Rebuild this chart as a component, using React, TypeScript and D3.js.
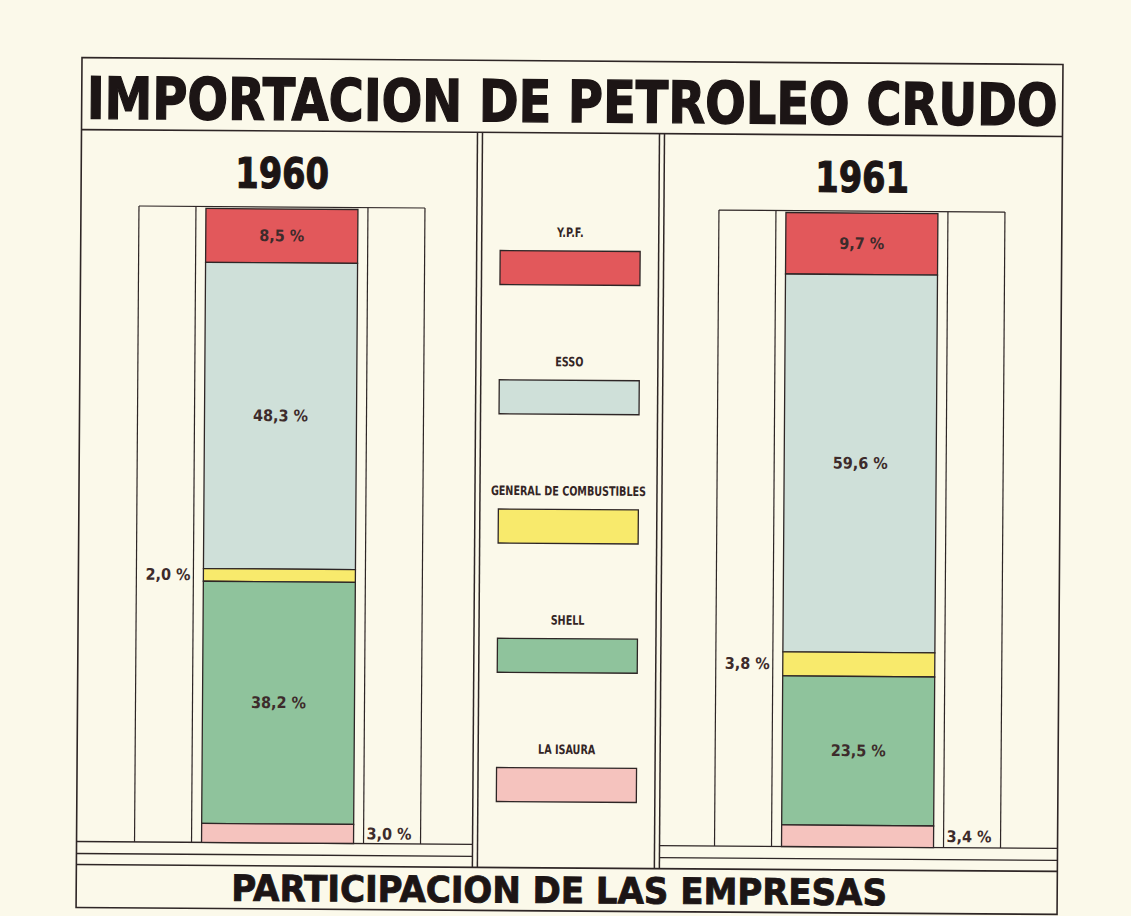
import React from 'react'
import * as d3 from 'd3'

const companies = ['Y.P.F.', 'ESSO', 'GENERAL DE COMBUSTIBLES', 'SHELL', 'LA ISAURA']
const years = ['1960', '1961']
const shares1960 = [8.5, 48.3, 2.0, 38.2, 3.0]
const shares1961 = [9.7, 59.6, 3.8, 23.5, 3.4]
const titleText = 'IMPORTACION DE PETROLEO CRUDO'
const footerText = 'PARTICIPACION DE LAS EMPRESAS'

const fillColors = ['#e2585b', '#cfe0d9', '#f8ea6c', '#8fc39c', '#f5c3be']
const ink = '#2e2626'
const paper = '#fbf9ea'

// thin slices get their label outside the bar
const outsideSide: Record<string, string> = { 'GENERAL DE COMBUSTIBLES': 'left', 'LA ISAURA': 'right' }

function App() {
  const width = 1131
  const height = 916
  const frame = { left: 79, right: 1060, top: 61, bottom: 911 }
  const titleLine = 133
  const boxTop = 209
  const barTop = 211
  const barBottom = 845
  const baseLine2 = 857
  const footerLine = 868
  const legendPanel = { left: 475, right: 662 }
  const barHalf = 76
  const innerHalf = 86
  const outerHalf = 143
  const font = '"DejaVu Sans", sans-serif'
  const heavy = '#1c1515'

  const rows = years.map((year, i) => {
    const values = i === 0 ? shares1960 : shares1961
    const row: any = { year }
    companies.forEach((c, j) => { row[c] = values[j] })
    return row
  })
  const stacked = d3.stack<any>().keys(companies)(rows)

  const y = d3.scaleLinear().domain([0, 100]).range([barTop, barBottom])
  const panelX = d3.scaleOrdinal<string, number>().domain(years).range([280, 860])
  const color = d3.scaleOrdinal<string, string>().domain(companies).range(fillColors)
  const legendY = d3.scalePoint().domain(companies).range([251, 768])
  const fmt = (v: number) => d3.format('.1f')(v).replace('.', ',') + ' %'

  const line = (x1: number, y1: number, x2: number, y2: number, w = 1.4) =>
    <line x1={x1} y1={y1} x2={x2} y2={y2} stroke={ink} strokeWidth={w} />

  const midX = (frame.left + frame.right) / 2

  return (
    <svg width={width} height={height} style={{ position: 'absolute', left: 0, top: 0 }} fontFamily={font}>
      <rect width={width} height={height} fill={paper} />
      {/* the printed sheet sits slightly askew */}
      <g transform="rotate(0.4 570 490)">
        <rect x={frame.left} y={frame.top} width={frame.right - frame.left} height={frame.bottom - frame.top}
          fill="none" stroke={ink} strokeWidth={1.6} />
        {line(frame.left, titleLine, frame.right, titleLine, 1.6)}
        <text transform={`translate(${midX} 122) scale(0.825 1)`} textAnchor="middle" fontSize={58}
          fontWeight="bold" fill={heavy} stroke={heavy} strokeWidth={1.4}>{titleText}</text>

        {/* double rules around the legend column */}
        {[legendPanel.left, legendPanel.left + 5, legendPanel.right - 5, legendPanel.right].map(x =>
          <g key={x}>{line(x, titleLine, x, footerLine, 1.5)}</g>)}

        {/* base rules under each panel */}
        {[barBottom, baseLine2].map(yy => <g key={yy}>
          {line(frame.left, yy, legendPanel.left, yy)}
          {line(legendPanel.right, yy, frame.right, yy)}
        </g>)}
        {line(frame.left, footerLine, frame.right, footerLine, 1.6)}
        <text transform={`translate(562 903) scale(0.945 1)`} textAnchor="middle" fontSize={36}
          fontWeight="bold" fill={heavy} stroke={heavy} strokeWidth={0.9}>{footerText}</text>

        {years.map((year, yi) => {
          const cx = panelX(year)
          return <g key={year}>
            <text transform={`translate(${cx} 190) scale(0.8 1)`} textAnchor="middle" fontSize={42}
              fontWeight="bold" fill={heavy} stroke={heavy} strokeWidth={1.2}>{year}</text>
            {line(cx - outerHalf, boxTop, cx + outerHalf, boxTop, 1.2)}
            {[-outerHalf, -innerHalf, innerHalf, outerHalf].map(dx =>
              <g key={dx}>{line(cx + dx, boxTop, cx + dx, barBottom, 1.2)}</g>)}
            {stacked.map(series => {
              const [y0, y1] = series[yi]
              const company = series.key
              const side = outsideSide[company]
              const value = y1 - y0
              const mid = (y(y0) + y(y1)) / 2
              let lx = cx
              let anchor = 'middle'
              if (side === 'left') { lx = cx - innerHalf - 3; anchor = 'end' }
              if (side === 'right') { lx = cx + innerHalf + 3; anchor = 'start' }
              return <g key={company}>
                <rect x={cx - barHalf} y={y(y0)} width={barHalf * 2} height={y(y1) - y(y0)}
                  fill={color(company)} stroke={ink} strokeWidth={1.3} />
                <text transform={`translate(${lx} ${mid}) scale(0.9 1)`} textAnchor={anchor}
                  dominantBaseline="central" fontSize={16} fontWeight="bold" fill="#3d2b2b">
                  {fmt(Math.round(value * 10) / 10)}
                </text>
              </g>
            })}
          </g>
        })}

        {/* legend */}
        {companies.map(company => {
          const top = legendY(company)!
          const mid = (legendPanel.left + legendPanel.right) / 2
          return <g key={company}>
            <text transform={`translate(${mid} ${top - 14}) scale(0.74 1)`} textAnchor="middle"
              fontSize={13} fontWeight="bold" fill="#332525">{company}</text>
            <rect x={mid - 70} y={top} width={140} height={34} fill={color(company)} stroke={ink} strokeWidth={1.3} />
          </g>
        })}
      </g>
    </svg>
  )
}

export default App
